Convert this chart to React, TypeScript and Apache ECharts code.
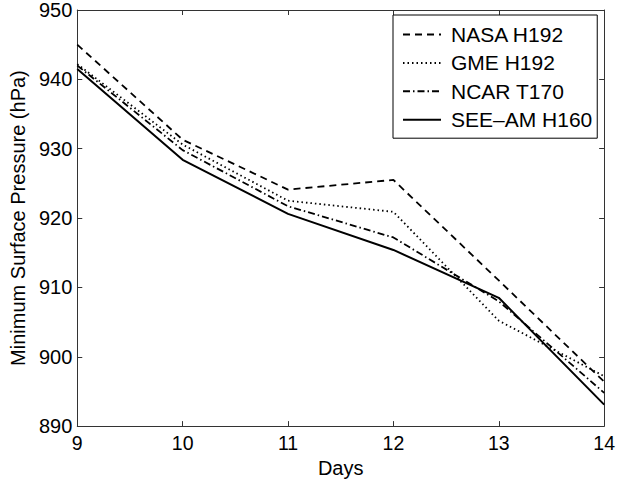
import React, { useEffect, useRef } from "react";
import * as echarts from "echarts";

const days = [9, 10, 11, 12, 13, 14];
const nasaH192 = [945, 931.3, 924.1, 925.5, 911, 896.4];
const gmeH192 = [942.2, 930.6, 922.5, 920.9, 905.2, 897.2];
const ncarT170 = [942, 929.8, 921.7, 917.2, 908.0, 894.8];
const seeAmH160 = [941.5, 928.4, 920.6, 915.4, 908.5, 893.1];
const seriesNames = ["NASA H192", "GME H192", "NCAR T170", "SEE\u2013AM H160"];
const xTicks = [9, 10, 11, 12, 13, 14];
const yTicks = [890, 900, 910, 920, 930, 940, 950];

const FONT = "Liberation Sans, Arial, Helvetica, sans-serif";

export default function App() {
  const ref = useRef<HTMLDivElement>(null);
  useEffect(() => {
    if (!ref.current) return;
    const chart = echarts.init(ref.current, undefined, { renderer: "svg" });
    const pair = (ys: number[]) => days.map((d, i) => [d, ys[i]]);
    const dashes: any[] = [[7, 5], [1.5, 3], [7, 3, 1.5, 3], "solid"];
    const widths = [1.8, 1.8, 1.8, 2];
    const allData = [nasaH192, gmeH192, ncarT170, seeAmH160];
    const axisLine = { show: true, lineStyle: { color: "#333", width: 1 } };
    const baseX = {
      type: "value",
      min: xTicks[0],
      max: xTicks[xTicks.length - 1],
      interval: 1,
      splitLine: { show: false },
      axisLine,
      axisTick: { show: true, inside: true, length: 5, lineStyle: { color: "#333" } },
    };
    const baseY = {
      type: "value",
      min: yTicks[0],
      max: yTicks[yTicks.length - 1],
      interval: 10,
      splitLine: { show: false },
      axisLine,
      axisTick: { show: true, inside: true, length: 5, lineStyle: { color: "#333" } },
    };
    chart.setOption({
      animation: false,
      backgroundColor: "#fff",
      textStyle: { fontFamily: FONT },
      grid: { left: 72, right: 10, top: 8, bottom: 52, containLabel: false },
      xAxis: [
        {
          ...baseX,
          position: "bottom",
          name: "Days",
          nameLocation: "middle",
          nameGap: 28,
          nameTextStyle: { fontSize: 20, color: "#000", fontFamily: FONT },
          axisLabel: { fontSize: 19.5, color: "#000", margin: 7, fontFamily: FONT },
        },
        { ...baseX, position: "top", axisLabel: { show: false } },
      ],
      yAxis: [
        {
          ...baseY,
          position: "left",
          name: "Minimum Surface Pressure (hPa)",
          nameLocation: "middle",
          nameGap: 46,
          nameTextStyle: { fontSize: 20, color: "#000", fontFamily: FONT },
          axisLabel: {
            fontSize: 20,
            color: "#000",
            margin: 5,
            fontFamily: FONT,
            padding: [3, 0, 0, 0],
          },
        },
        { ...baseY, position: "right", axisLabel: { show: false } },
      ],
      legend: {
        orient: "vertical",
        left: 393,
        top: 15,
        padding: [9, 5, 8, 9],
        itemWidth: 38,
        itemHeight: 16,
        itemGap: 7.4,
        backgroundColor: "#fff",
        borderColor: "#000",
        borderWidth: 1,
        borderRadius: 0,
        data: seriesNames,
        itemStyle: { opacity: 0 },
        textStyle: {
          fontSize: 21,
          lineHeight: 16,
          color: "#000",
          fontFamily: FONT,
          padding: [0, 0, 0, 5],
        },
      },
      series: seriesNames.map((name, i) => ({
        name,
        type: "line",
        xAxisIndex: 0,
        yAxisIndex: 0,
        data: pair(allData[i]),
        symbol: "none",
        showSymbol: false,
        lineStyle: { color: "#000", width: widths[i], type: dashes[i] },
        itemStyle: { color: "#000" },
      })),
    });
    return () => chart.dispose();
  }, []);
  return (
    <div
      ref={ref}
      style={{ position: "fixed", left: 0, top: 0, width: 618, height: 483 }}
    />
  );
}
